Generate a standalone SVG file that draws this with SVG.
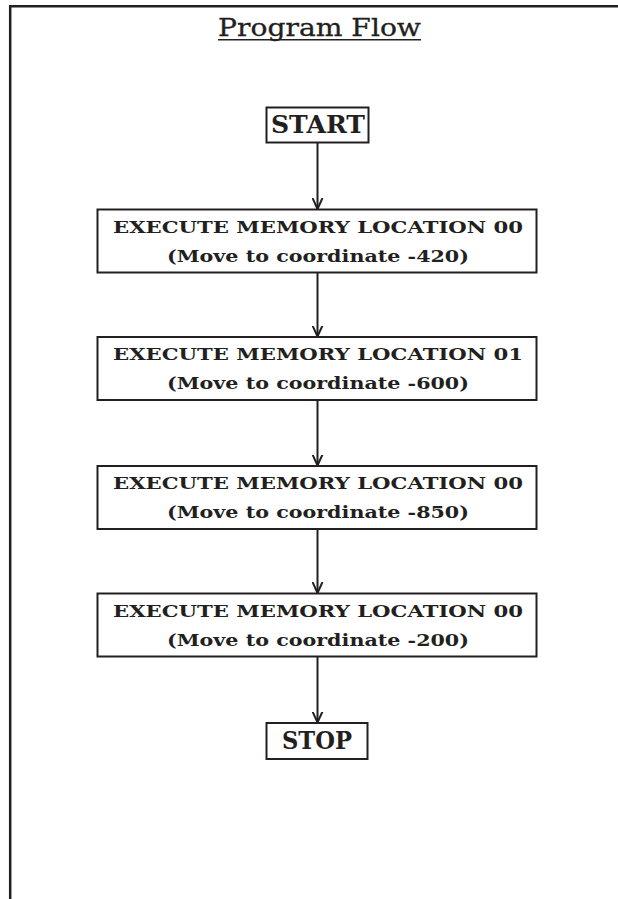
<svg xmlns="http://www.w3.org/2000/svg" width="618" height="899" viewBox="0 0 618 899">
  <style>
    .frame { fill: none; stroke: #231f20; stroke-width: 2.5; }
    .box { fill: #ffffff; stroke: #231f20; stroke-width: 2; }
    .wire { fill: none; stroke: #231f20; stroke-width: 2; }
    .title { font-family: "DejaVu Serif", "Liberation Serif", serif; font-size: 23.5px; fill: #231f20; stroke: #231f20; stroke-width: 0.3; text-anchor: middle; }
    .term { font-family: "DejaVu Serif", "Liberation Serif", serif; font-size: 24px; font-weight: bold; fill: #231f20; text-anchor: middle; }
    .label { font-family: "DejaVu Serif", "Liberation Serif", serif; font-size: 17.5px; font-weight: bold; fill: #231f20; text-anchor: middle; }
  </style>
  <defs>
    <marker id="vhead" viewBox="0 0 12 12" refX="11" refY="6" markerWidth="12" markerHeight="12" markerUnits="userSpaceOnUse" orient="auto">
      <path d="M0,1 L11,6 L0,11" fill="none" stroke="#231f20" stroke-width="2"/>
    </marker>
  </defs>
  <rect width="618" height="899" fill="#ffffff"/>

  <!-- page frame: top rule and left rule -->
  <path class="frame" d="M10.2,899 V6.3 H618"/>

  <!-- heading -->
  <g id="heading">
    <text class="title" x="319.5" y="35.5" textLength="203" lengthAdjust="spacingAndGlyphs">Program Flow</text>
    <line x1="218" y1="39.7" x2="421" y2="39.7" stroke="#231f20" stroke-width="1.6"/>
  </g>

  <!-- connectors -->
  <g id="connectors">
    <line class="wire" x1="317.5" y1="143" x2="317.5" y2="209" marker-end="url(#vhead)"/>
    <line class="wire" x1="317.5" y1="273" x2="317.5" y2="336.5" marker-end="url(#vhead)"/>
    <line class="wire" x1="317.5" y1="400.5" x2="317.5" y2="465.5" marker-end="url(#vhead)"/>
    <line class="wire" x1="317.5" y1="529" x2="317.5" y2="593" marker-end="url(#vhead)"/>
    <line class="wire" x1="317.5" y1="657" x2="317.5" y2="722.5" marker-end="url(#vhead)"/>
  </g>

  <g id="start">
    <rect class="box" x="266.5" y="107.5" width="102" height="35"/>
    <text class="term" x="318" y="133" textLength="94" lengthAdjust="spacingAndGlyphs">START</text>
  </g>

  <g id="step1">
    <rect class="box" x="97.5" y="209.5" width="439" height="63"/>
    <text class="label" x="318" y="232.5" textLength="410" lengthAdjust="spacingAndGlyphs">EXECUTE MEMORY LOCATION 00</text>
    <text class="label" x="318" y="261.5" textLength="302" lengthAdjust="spacingAndGlyphs">(Move to coordinate -420)</text>
  </g>

  <g id="step2">
    <rect class="box" x="97.5" y="337" width="439" height="63"/>
    <text class="label" x="318" y="360" textLength="410" lengthAdjust="spacingAndGlyphs">EXECUTE MEMORY LOCATION 01</text>
    <text class="label" x="318" y="389" textLength="302" lengthAdjust="spacingAndGlyphs">(Move to coordinate -600)</text>
  </g>

  <g id="step3">
    <rect class="box" x="97.5" y="466" width="439" height="63"/>
    <text class="label" x="318" y="489" textLength="410" lengthAdjust="spacingAndGlyphs">EXECUTE MEMORY LOCATION 00</text>
    <text class="label" x="318" y="518" textLength="302" lengthAdjust="spacingAndGlyphs">(Move to coordinate -850)</text>
  </g>

  <g id="step4">
    <rect class="box" x="97.5" y="593.5" width="439" height="63"/>
    <text class="label" x="318" y="616.5" textLength="410" lengthAdjust="spacingAndGlyphs">EXECUTE MEMORY LOCATION 00</text>
    <text class="label" x="318" y="645.5" textLength="302" lengthAdjust="spacingAndGlyphs">(Move to coordinate -200)</text>
  </g>

  <g id="stop">
    <rect class="box" x="266.5" y="723" width="101" height="36"/>
    <text class="term" x="317" y="748.5" textLength="70" lengthAdjust="spacingAndGlyphs">STOP</text>
  </g>
</svg>
